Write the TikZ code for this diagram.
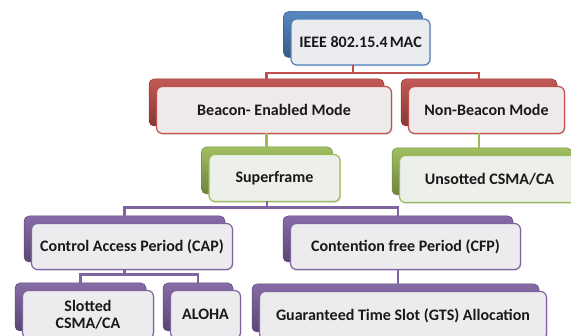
\documentclass[tikz,border=0pt]{standalone}
\usepackage{fontspec}
\setmainfont{Carlito}
\usetikzlibrary{positioning,shadows}

\definecolor{macblue}{HTML}{4F81BD}
\definecolor{modered}{HTML}{C0504D}
\definecolor{framegreen}{HTML}{9BBB59}
\definecolor{periodpurple}{HTML}{8064A2}

\begin{document}
\begin{tikzpicture}[x=1pt, y=-1pt,
    back/.style={rounded corners=5pt, draw=#1!75!black, line width=0.5pt,
        top color=#1!95!white, bottom color=#1!70!black,
        inner sep=0pt, outer sep=0pt},
    front/.style={rounded corners=6pt, draw=#1, line width=1.2pt,
        fill=#1!30!gray!15!white, inner sep=0pt, outer sep=0pt, align=center,
        font=\fontsize{16}{17}\selectfont\bfseries, text=black!90,
        drop shadow={opacity=0.2, shadow xshift=1pt, shadow yshift=-1.5pt}},
    conn/.style={draw=#1, line width=2.2pt}]
    \path[use as bounding box, fill=white] (0,0) rectangle (571,336);

    % top
    \node[back=macblue, minimum width=139, minimum height=46] (macb) at (353,34.5) {};
    \node[front=macblue, minimum width=139, minimum height=46] (mac) at ([shift={(7.5,7.5)}]macb) {IEEE 802.15.4\hspace{0.12em}MAC};

    % modes
    \node[back=modered, minimum width=235, minimum height=47] (beaconb) at (266.5,102.5) {};
    \node[front=modered, minimum width=235, minimum height=47] (beacon) at ([shift={(7.5,7.5)}]beaconb) {Beacon- Enabled Mode};
    \node[back=modered, minimum width=156, minimum height=47] (nonbeaconb) at (479,102.5) {};
    \node[front=modered, minimum width=156, minimum height=47] (nonbeacon) at ([shift={(7.5,7.5)}]nonbeaconb) {Non-Beacon Mode};

    % superframe / unslotted
    \node[back=framegreen, minimum width=131, minimum height=47] (superb) at (267,170.5) {};
    \node[front=framegreen, minimum width=131, minimum height=47] (super) at ([shift={(7.5,7.5)}]superb) {Superframe};
    \node[back=framegreen, minimum width=180, minimum height=47] (unsottedb) at (482,171.5) {};
    \node[front=framegreen, minimum width=180, minimum height=47] (unsotted) at ([shift={(7.5,7.5)}]unsottedb) {Unsotted CSMA/CA};

    % periods
    \node[back=periodpurple, minimum width=201, minimum height=46] (capb) at (124.5,239) {};
    \node[front=periodpurple, minimum width=201, minimum height=46] (cap) at ([shift={(7.5,7.5)}]capb) {Control Access Period (CAP)};
    \node[back=periodpurple, minimum width=230, minimum height=46] (cfpb) at (398,239) {};
    \node[front=periodpurple, minimum width=230, minimum height=46] (cfp) at ([shift={(7.5,7.5)}]cfpb) {Contention free Period (CFP)};

    % bottom row
    \node[back=periodpurple, minimum width=131, minimum height=48] (slottedb) at (80.5,307) {};
    \node[front=periodpurple, minimum width=131, minimum height=48] (slotted) at ([shift={(7.5,7.5)}]slottedb) {Slotted\\CSMA/CA};
    \node[back=periodpurple, minimum width=70, minimum height=48] (alohab) at (198,307) {};
    \node[front=periodpurple, minimum width=70, minimum height=48] (aloha) at ([shift={(7.5,7.5)}]alohab) {ALOHA};
    \node[back=periodpurple, minimum width=287, minimum height=48] (gtsb) at (395.5,308) {};
    \node[front=periodpurple, minimum width=287, minimum height=48] (gts) at ([shift={(7.5,7.5)}]gtsb) {Guaranteed Time Slot (GTS) Allocation};

    % connectors
    \draw[conn=modered] (macb.south |- mac.south) -- ++(0,8) -| (beaconb.north);
    \draw[conn=modered] (macb.south |- mac.south) -- ++(0,8) -| (nonbeaconb.north);
    \draw[conn=framegreen] (beaconb.south |- beacon.south) -- (beaconb.south |- superb.north);
    \draw[conn=framegreen] (nonbeaconb.south |- nonbeacon.south) -- (nonbeaconb.south |- unsottedb.north);
    \draw[conn=periodpurple] (superb.south |- super.south) -- ++(0,6) -| (capb.north);
    \draw[conn=periodpurple] (superb.south |- super.south) -- ++(0,6) -| (cfpb.north);
    \draw[conn=periodpurple] (capb.south |- cap.south) -- ++(0,5) -| (slottedb.north);
    \draw[conn=periodpurple] (capb.south |- cap.south) -- ++(0,5) -| (alohab.north);
    \draw[conn=periodpurple] (cfpb.south |- cfp.south) -- (cfpb.south |- gtsb.north);
\end{tikzpicture}
\end{document}
